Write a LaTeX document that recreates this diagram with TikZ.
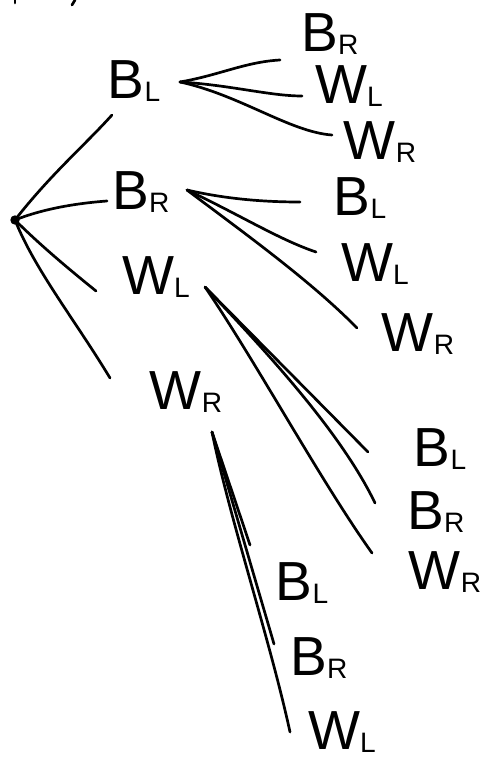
\documentclass[tikz,border=0pt]{standalone}
\usepackage{fontspec}
\setsansfont{Liberation Sans}
\newcommand\lbl[2]{#1\raisebox{-0.05em}{\fontsize{24}{28}\selectfont #2}}
\begin{document}
\begin{tikzpicture}[x=0.03cm,y=-0.03cm,
  stroke/.style={line width=2.3pt,line cap=round,line join=round},
  lab/.style={inner sep=0pt,text height=34pt,text depth=1pt,
    font=\sffamily\fontsize{47}{56}\selectfont},
  dotnode/.style={circle,fill,inner sep=0pt,minimum size=8pt}]
\useasboundingbox (0,0) rectangle (485,765);

% root of the tree
\node[dotnode] (root) at (15,220) {};

% first level
\node[lab] (bl) at (134,79) {\lbl{B}{L}};
\node[lab] (br) at (141,190) {\lbl{B}{R}};
\node[lab] (wl) at (156,275) {\lbl{W}{L}};
\node[lab] (wr) at (186,390) {\lbl{W}{R}};

% second level
\node[lab] (bl-br) at (330,32) {\lbl{B}{R}};
\node[lab] (bl-wl) at (349,84) {\lbl{W}{L}};
\node[lab] (bl-wr) at (380,140) {\lbl{W}{R}};
\node[lab] (br-bl) at (360,196) {\lbl{B}{L}};
\node[lab] (br-wl) at (375,262) {\lbl{W}{L}};
\node[lab] (br-wr) at (418,332) {\lbl{W}{R}};
\node[lab] (wl-bl) at (440,447) {\lbl{B}{L}};
\node[lab] (wl-br) at (436,510) {\lbl{B}{R}};
\node[lab] (wl-wr) at (445,570) {\lbl{W}{R}};
\node[lab] (wr-bl) at (302,581) {\lbl{B}{L}};
\node[lab] (wr-br) at (319,656) {\lbl{B}{R}};
\node[lab] (wr-wl) at (342,730) {\lbl{W}{L}};

% branch points and branch ends
\coordinate (bl-f) at (180,82);
\coordinate (br-f) at (187,190);
\coordinate (wl-f) at (205,287);
\coordinate (wr-f) at (212,432);
\coordinate (e-bl) at (112,115);
\coordinate (e-br) at (107,201);
\coordinate (e-wl) at (96,291);
\coordinate (e-wr) at (110,378);
\coordinate (e-bl-br) at (280,60);
\coordinate (e-bl-wl) at (302,96);
\coordinate (e-bl-wr) at (332,135);
\coordinate (e-br-bl) at (300,202);
\coordinate (e-br-wl) at (316,252);
\coordinate (e-br-wr) at (357,328);
\coordinate (e-wl-bl) at (368,452);
\coordinate (e-wl-br) at (375,503);
\coordinate (e-wl-wr) at (372,553);
\coordinate (e-wr-bl) at (250,545);
\coordinate (e-wr-br) at (274,644);
\coordinate (e-wr-wl) at (290,732);

% edges from the root
\draw[stroke] (root.center) .. controls (50,175) and (85,145) .. (e-bl);
\draw[stroke] (root.center) .. controls (45,208) and (80,203) .. (e-br);
\draw[stroke] (root.center) .. controls (40,245) and (70,270) .. (e-wl);
\draw[stroke] (root.center) .. controls (35,270) and (75,320) .. (e-wr);

% edges from B_L
\draw[stroke] (bl-f) .. controls (220,75) and (245,62) .. (e-bl-br);
\draw[stroke] (bl-f) .. controls (230,85) and (270,96) .. (e-bl-wl);
\draw[stroke] (bl-f) .. controls (240,95) and (290,132) .. (e-bl-wr);

% edges from B_R
\draw[stroke] (br-f) .. controls (230,200) and (270,202) .. (e-br-bl);
\draw[stroke] (br-f) .. controls (240,215) and (280,240) .. (e-br-wl);
\draw[stroke] (br-f) .. controls (240,230) and (310,280) .. (e-br-wr);

% edges from W_L
\draw[stroke] (wl-f) -- (e-wl-bl);
\draw[stroke] (wl-f) .. controls (260,345) and (340,430) .. (e-wl-br);
\draw[stroke] (wl-f) .. controls (255,360) and (320,480) .. (e-wl-wr);

% edges from W_R
\draw[stroke] (wr-f) -- (e-wr-bl);
\draw[stroke] (wr-f) -- (e-wr-br);
\draw[stroke] (wr-f) .. controls (230,520) and (270,640) .. (e-wr-wl);

% pen marks along the top edge
\draw[stroke] (15,0) -- (15,3);
\draw[stroke] (75,0) -- (72,5);
\end{tikzpicture}
\end{document}
